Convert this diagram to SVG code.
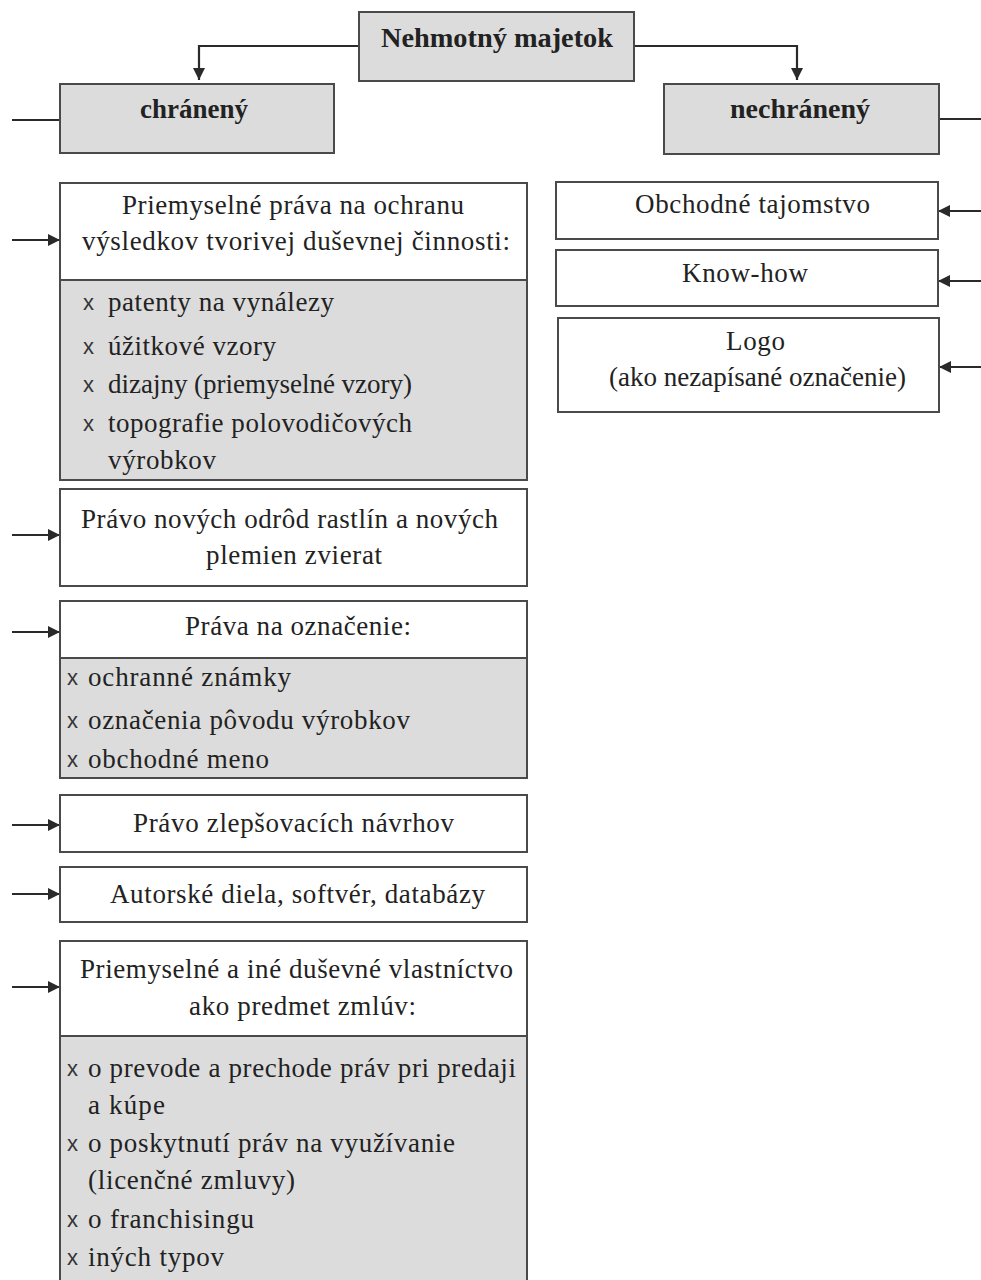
<svg xmlns="http://www.w3.org/2000/svg" width="981" height="1280" viewBox="0 0 981 1280">
<style>
.box{fill:#ffffff;stroke:#4a4a4a;stroke-width:2}
.g{fill:#dcdcdc;stroke:#4a4a4a;stroke-width:2}
.t{font-family:"Liberation Serif","Times New Roman",serif;font-size:27px;fill:#222}
.x{font-family:"Liberation Sans",Arial,sans-serif;font-size:22px;fill:#333}
.c{text-anchor:middle}
.b{font-weight:bold;font-size:28px}
.ln{stroke:#2a2a2a;stroke-width:2.2;fill:none}
</style>
<defs>
<marker id="ah" viewBox="0 0 12 12" refX="12" refY="6" markerWidth="12" markerHeight="12" markerUnits="userSpaceOnUse" orient="auto">
<path d="M0,0 L12,6 L0,12 z" fill="#2a2a2a"/>
</marker>
</defs>
<g id="connectors">
<path class="ln" d="M359,46 H199 V80" marker-end="url(#ah)"/>
<path class="ln" d="M634,46 H797 V80" marker-end="url(#ah)"/>
<path class="ln" d="M12,120 H60"/>
<path class="ln" d="M939,119 H981"/>
<path class="ln" d="M12,240 H60" marker-end="url(#ah)"/>
<path class="ln" d="M12,535 H60" marker-end="url(#ah)"/>
<path class="ln" d="M12,632 H60" marker-end="url(#ah)"/>
<path class="ln" d="M12,825 H60" marker-end="url(#ah)"/>
<path class="ln" d="M12,894 H60" marker-end="url(#ah)"/>
<path class="ln" d="M12,987 H60" marker-end="url(#ah)"/>
<path class="ln" d="M981,211 H938" marker-end="url(#ah)"/>
<path class="ln" d="M981,281 H938" marker-end="url(#ah)"/>
<path class="ln" d="M981,367 H939" marker-end="url(#ah)"/>
</g>
<g id="root">
<rect class="g" x="359" y="12" width="275" height="69"/>
<text class="t b c" x="497" y="47" textLength="232" lengthAdjust="spacingAndGlyphs">Nehmotný majetok</text>
</g>
<g id="chraneny">
<rect class="g" x="60" y="84" width="274" height="69"/>
<text class="t b c" x="194" y="118" textLength="108" lengthAdjust="spacingAndGlyphs">chránený</text>
</g>
<g id="nechraneny">
<rect class="g" x="664" y="84" width="275" height="70"/>
<text class="t b c" x="800" y="118" textLength="140" lengthAdjust="spacingAndGlyphs">nechránený</text>
</g>
<g id="obchodne-tajomstvo">
<rect class="box" x="556" y="182" width="382" height="57"/>
<text class="t" x="635" y="213" textLength="235" lengthAdjust="spacing">Obchodné tajomstvo</text>
</g>
<g id="know-how">
<rect class="box" x="556" y="250" width="382" height="56"/>
<text class="t" x="682" y="282" textLength="126" lengthAdjust="spacing">Know-how</text>
</g>
<g id="logo">
<rect class="box" x="558" y="318" width="381" height="94"/>
<text class="t" x="726" y="350" textLength="59" lengthAdjust="spacing">Logo</text>
<text class="t" x="609" y="386" textLength="297" lengthAdjust="spacing">(ako nezapísané označenie)</text>
</g>
<g id="priemyselne-prava">
<rect class="box" x="60" y="183" width="467" height="97"/>
<rect class="g" x="60" y="280" width="467" height="200"/>
<text class="t" x="122" y="214" textLength="342" lengthAdjust="spacing">Priemyselné práva na ochranu</text>
<text class="t" x="82" y="250" textLength="428" lengthAdjust="spacing">výsledkov tvorivej duševnej činnosti:</text>
<text class="x" x="83" y="310">x</text><text class="t" x="108" y="311" textLength="226" lengthAdjust="spacing">patenty na vynálezy</text>
<text class="x" x="83" y="354">x</text><text class="t" x="108" y="355" textLength="168" lengthAdjust="spacing">úžitkové vzory</text>
<text class="x" x="83" y="392">x</text><text class="t" x="108" y="393" textLength="304" lengthAdjust="spacing">dizajny (priemyselné vzory)</text>
<text class="x" x="83" y="431">x</text><text class="t" x="108" y="432" textLength="304" lengthAdjust="spacing">topografie polovodičových</text>
<text class="t" x="108" y="469" textLength="108" lengthAdjust="spacing">výrobkov</text>
</g>
<g id="odrody">
<rect class="box" x="60" y="489" width="467" height="97"/>
<text class="t" x="81" y="528" textLength="417" lengthAdjust="spacing">Právo nových odrôd rastlín a nových</text>
<text class="t" x="206" y="564" textLength="176" lengthAdjust="spacing">plemien zvierat</text>
</g>
<g id="oznacenie">
<rect class="box" x="60" y="601" width="467" height="57"/>
<rect class="g" x="60" y="658" width="467" height="120"/>
<text class="t" x="185" y="635" textLength="226" lengthAdjust="spacing">Práva na označenie:</text>
<text class="x" x="67" y="685">x</text><text class="t" x="88" y="686" textLength="203" lengthAdjust="spacing">ochranné známky</text>
<text class="x" x="67" y="728">x</text><text class="t" x="88" y="729" textLength="322" lengthAdjust="spacing">označenia pôvodu výrobkov</text>
<text class="x" x="67" y="767">x</text><text class="t" x="88" y="768" textLength="181" lengthAdjust="spacing">obchodné meno</text>
</g>
<g id="zlepsovacie">
<rect class="box" x="60" y="795" width="467" height="57"/>
<text class="t" x="133" y="832" textLength="321" lengthAdjust="spacing">Právo zlepšovacích návrhov</text>
</g>
<g id="autorske">
<rect class="box" x="60" y="867" width="467" height="55"/>
<text class="t" x="110" y="903" textLength="375" lengthAdjust="spacing">Autorské diela, softvér, databázy</text>
</g>
<g id="zmluvy">
<rect class="box" x="60" y="941" width="467" height="95"/>
<rect class="g" x="60" y="1036" width="467" height="250"/>
<text class="t" x="80" y="978" textLength="433" lengthAdjust="spacing">Priemyselné a iné duševné vlastníctvo</text>
<text class="t" x="189" y="1015" textLength="227" lengthAdjust="spacing">ako predmet zmlúv:</text>
<text class="x" x="67" y="1076">x</text><text class="t" x="88" y="1077" textLength="428" lengthAdjust="spacing">o prevode a prechode práv pri predaji</text>
<text class="t" x="88" y="1114" textLength="77" lengthAdjust="spacing">a kúpe</text>
<text class="x" x="67" y="1151">x</text><text class="t" x="88" y="1152" textLength="367" lengthAdjust="spacing">o poskytnutí práv na využívanie</text>
<text class="t" x="88" y="1189" textLength="207" lengthAdjust="spacing">(licenčné zmluvy)</text>
<text class="x" x="67" y="1227">x</text><text class="t" x="88" y="1228" textLength="166" lengthAdjust="spacing">o franchisingu</text>
<text class="x" x="67" y="1265">x</text><text class="t" x="88" y="1266" textLength="136" lengthAdjust="spacing">iných typov</text>
</g>
</svg>
